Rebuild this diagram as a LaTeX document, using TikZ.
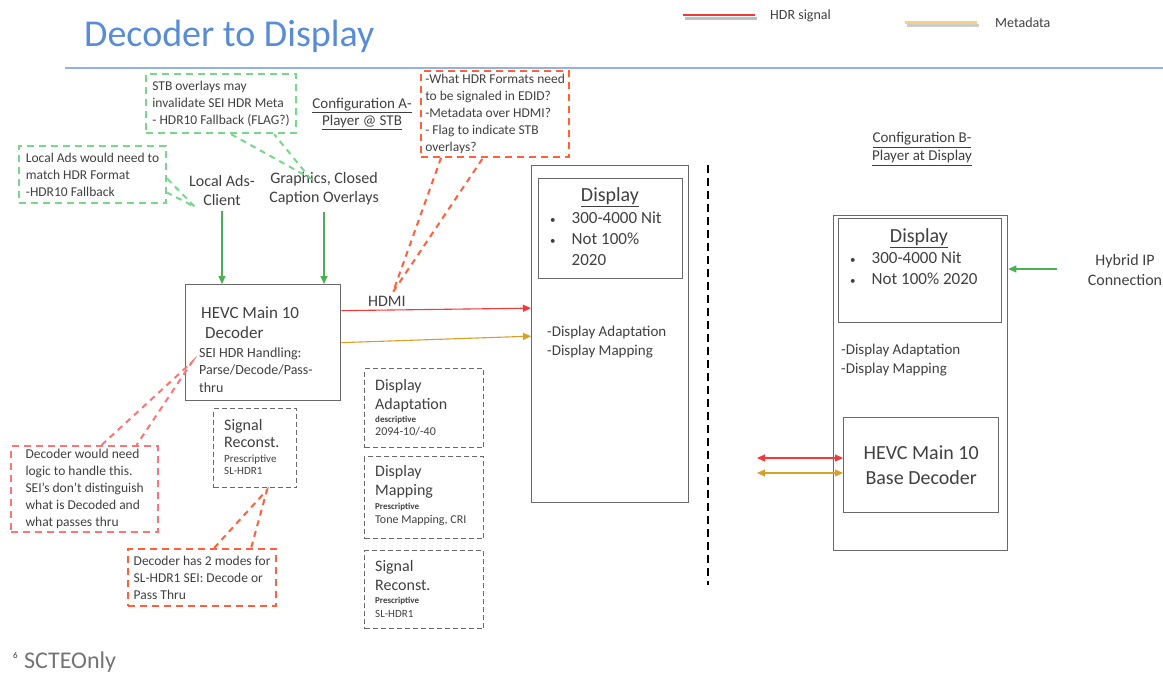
\documentclass[tikz,border=0pt]{standalone}
\usepackage{fontspec}
\setmainfont{Carlito}
\usepackage{tikz}
\usetikzlibrary{arrows.meta,positioning}

\definecolor{titleblue}{RGB}{88,140,215}
\definecolor{ruleblue}{RGB}{143,179,226}
\definecolor{hdrred}{RGB}{245,55,55}
\definecolor{metagold}{RGB}{215,160,40}
\definecolor{keygold}{RGB}{247,208,125}
\definecolor{notegreen}{RGB}{120,215,140}
\definecolor{arrowgreen}{RGB}{75,175,85}
\definecolor{notepink}{RGB}{255,115,115}
\definecolor{noteorange}{RGB}{255,95,60}
\definecolor{inkgrey}{RGB}{64,64,64}
\definecolor{boxgrey}{RGB}{105,105,105}

\newcommand{\fsz}[2]{\fontsize{#1}{#2}\selectfont}
\newcommand{\bul}{{\fsz{11}{12}•}}

\tikzset{
  note/.style={draw=#1, line width=2.2pt, dash pattern=on 7pt off 5pt,
    anchor=north west, align=left, inner xsep=4pt, inner ysep=3pt,
    text=inkgrey, font=\fsz{13.5}{17}},
  notetail/.style={draw=#1, line width=2pt, dash pattern=on 6pt off 5pt},
  block/.style={draw=boxgrey, line width=1.3pt, anchor=north west, inner sep=0pt},
  optbox/.style={draw=boxgrey, line width=1pt, dash pattern=on 5pt off 3pt,
    anchor=north west, inner sep=0pt},
  txt/.style={inner sep=0pt, align=left, text=inkgrey},
  sigflow/.style={line width=1.1pt, -{Triangle[length=8pt,width=7pt]}},
  twoway/.style={line width=1.1pt, {Triangle[length=8pt,width=7pt]}-{Triangle[length=8pt,width=7pt]}},
}

\begin{document}
\begin{tikzpicture}[x=1pt, y=-1pt]
  \useasboundingbox (0,0) rectangle (1163,675);
  \clip (0,0) rectangle (1163,675);

  % heading and key
  \node[anchor=base west, inner sep=0pt, text=titleblue, font=\fsz{38}{40}] (title) at (84,46) {Decoder to Display};
  \draw[ruleblue, line width=1.5pt] (65,68) -- (1163,68);
  \draw[black!25, line width=3pt] (685,18) -- (757,18);
  \draw[hdrred, line width=2.5pt] (683,15) -- (755,15);
  \node[txt, anchor=west, font=\fsz{14}{16}] (hdrkey) at (770,16) {HDR signal};
  \draw[black!20, line width=3pt] (907,25) -- (979,25);
  \draw[keygold, line width=3pt] (905,22) -- (977,22);
  \node[txt, anchor=west, font=\fsz{14}{16}] (metakey) at (995,23) {Metadata};

  % configuration A
  \node[txt, align=center, font=\fsz{15}{17}] (cfga) at (362,114) {\underline{Configuration A-}\\\underline{Player @ STB}};
  \node[txt, align=center, font=\fsz{16}{19}] (ads) at (222,190) {Local Ads-\\Client};
  \node[txt, align=center, font=\fsz{16}{19}] (gfx) at (324,189) {Graphics, Closed\\Caption Overlays};

  \node[block, minimum width=155pt, minimum height=116pt] (dec) at (185,284) {};
  \node[txt, anchor=west, font=\fsz{17}{20}] (dechead) at (201,323) {HEVC Main 10\\\hspace{4pt}Decoder};
  \node[txt, anchor=west, font=\fsz{14}{17.5}] (decsei) at (199,370) {SEI HDR Handling:\\Parse/Decode/Pass-\\thru};

  \node[block, minimum width=157pt, minimum height=337pt] (dispa) at (531,165) {};
  \node[block, minimum width=144pt, minimum height=100pt] (scra) at (538,178) {};
  \node[txt, font=\fsz{20}{22}] (scratitle) at (610,197) {\underline{Display}};
  \node[txt, anchor=north west, font=\fsz{17}{21}] (scralist) at (550,209)
    {\begin{tabular}{@{}l@{\hspace{16pt}}l@{}}\bul & 300-4000 Nit\\\bul & Not 100\%\\ & 2020\end{tabular}};
  \node[txt, anchor=west, font=\fsz{15}{19}] (dispaops) at (547,342) {-Display Adaptation\\-Display Mapping};

  \draw[sigflow, arrowgreen] ([yshift=-6pt]ads.south) -- (ads.south |- dec.north);
  \draw[sigflow, arrowgreen] ([yshift=-6pt]gfx.south) -- (gfx.south |- dec.north);
  \draw[sigflow, hdrred] ([yshift=32pt]dec.east) -- node[txt, pos=0.24, above=3pt, font=\fsz{16}{18}] (hdmi) {HDMI} ([yshift=26pt]dispa.west);
  \draw[sigflow, metagold] (dec.east) -- ([yshift=-2pt]dispa.west);

  % optional stages
  \node[optbox, minimum width=83pt, minimum height=79pt] (recona) at (213,408) {};
  \node[txt, anchor=north west, font=\fsz{16}{17}] (reconahead) at (224,419) {Signal\\Reconst.};
  \node[txt, below=7pt of reconahead.south west, anchor=north west, font=\fsz{11}{12}] (reconanote) {Prescriptive\\SL-HDR1};

  \node[optbox, minimum width=119pt, minimum height=79pt] (adapt) at (364,368) {};
  \node[txt, anchor=north west, font=\fsz{16}{19}] (adapthead) at (375,379) {Display\\Adaptation};
  \node[txt, below=4pt of adapthead.south west, anchor=north west, font=\fsz{12}{13}] (adaptnote) {{\fsz{9}{10}\bfseries descriptive}\\2094-10/-40};

  \node[optbox, minimum width=119pt, minimum height=82pt] (mapping) at (364,456) {};
  \node[txt, anchor=north west, font=\fsz{16}{19}] (mappinghead) at (375,465) {Display\\Mapping};
  \node[txt, below=5pt of mappinghead.south west, anchor=north west, font=\fsz{12}{14}] (mappingnote) {{\fsz{9}{10}\bfseries Prescriptive}\\Tone Mapping, CRI};

  \node[optbox, minimum width=119pt, minimum height=78pt] (reconb) at (364,550) {};
  \node[txt, anchor=north west, font=\fsz{16}{19}] (reconbhead) at (375,560) {Signal\\Reconst.};
  \node[txt, below=6pt of reconbhead.south west, anchor=north west, font=\fsz{11}{14}] (reconbnote) {{\fsz{9}{10}\bfseries Prescriptive}\\SL-HDR1};

  % divider
  \draw[line width=2.2pt, dash pattern=on 8pt off 5pt] (708,165) -- (708,585);

  % configuration B
  \node[txt, align=center, font=\fsz{15}{18}] (cfgb) at (922,149) {\underline{Configuration B-}\\\underline{Player at Display}};
  \node[block, minimum width=174pt, minimum height=335pt] (dispb) at (833,215) {};
  \node[block, minimum width=163pt, minimum height=104pt] (scrb) at (838,218) {};
  \node[txt, font=\fsz{20}{22}] (scrbtitle) at (919,238) {\underline{Display}};
  \node[txt, anchor=north west, font=\fsz{17}{21}] (scrblist) at (850,249)
    {\begin{tabular}{@{}l@{\hspace{16pt}}l@{}}\bul & 300-4000 Nit\\\bul & Not 100\% 2020\end{tabular}};
  \node[txt, anchor=west, font=\fsz{15}{19}] (dispbops) at (841,360) {-Display Adaptation\\-Display Mapping};
  \node[block, minimum width=155pt, minimum height=95pt] (base) at (843,417) {};
  \node[txt, align=center, font=\fsz{20}{25}] (basetext) at (base.center) {HEVC Main 10\\Base Decoder};

  \node[txt, align=center, font=\fsz{16}{20}] (hybrid) at (1125,270) {Hybrid IP\\Connection};
  \coordinate (ipfrom) at (1057,269);
  \draw[sigflow, arrowgreen] (ipfrom) -- (ipfrom -| dispb.east);

  \coordinate (hdrstub) at (757,458);
  \coordinate (metastub) at (757,473);
  \draw[twoway, hdrred] (hdrstub) -- (hdrstub -| base.west);
  \draw[twoway, metagold] (metastub) -- (metastub -| base.west);

  % callouts
  \node[note=notegreen, minimum width=150pt, minimum height=59pt] (stbnote) at (145,73)
    {STB overlays may\\invalidate SEI HDR Meta\\- HDR10 Fallback (FLAG?)};
  \node[note=notegreen, minimum width=147pt, minimum height=57pt] (adsnote) at (18,145)
    {Local Ads would need to\\match HDR Format\\-HDR10 Fallback};
  \node[note=noteorange, minimum width=148pt, minimum height=85pt] (edidnote) at (420,70)
    {-What HDR Formats need\\to be signaled in EDID?\\-Metadata over HDMI?\\- Flag to indicate STB\\overlays?};
  \node[note=notepink, minimum width=147pt, minimum height=80pt] (logicnote) at (10,445)
    {Decoder would need\\logic to handle this.\\SEI's don't distinguish\\what is Decoded and\\what passes thru};
  \node[note=noteorange, minimum width=148pt, minimum height=57pt] (modesnote) at (127,548)
    {Decoder has 2 modes for\\SL-HDR1 SEI: Decode or\\Pass Thru};

  \coordinate (gfxtip) at (310,178);
  \coordinate (adstip) at (195,207);
  \coordinate (hdmitip) at (393,292);
  \coordinate (seitip) at (192,362);
  \coordinate (recontip) at (267,490);
  \draw[notetail=notegreen] ([xshift=10pt]stbnote.south) -- (gfxtip) -- ([xshift=53pt]stbnote.south);
  \draw[notetail=notegreen] ([yshift=-4pt]adsnote.east) -- (adstip) -- ([yshift=-18pt]adsnote.east);
  \draw[notetail=noteorange] ([xshift=-54pt]edidnote.south) -- (hdmitip) -- ([xshift=-12pt]edidnote.south);
  \draw[notetail=notepink] ([xshift=17pt]logicnote.north) -- (seitip) -- ([xshift=52pt]logicnote.north);
  \draw[notetail=noteorange] ([xshift=12pt]modesnote.north) -- (recontip) -- ([xshift=49pt]modesnote.north);

  % footer
  \node[txt, anchor=north west, font=\fsz{9}{10}] (slideno) at (13,652) {6};
  \node[txt, anchor=base west, text=black!55, font=\fsz{24}{26}] (scte) at (24,668) {SCTEOnly};
\end{tikzpicture}
\end{document}
